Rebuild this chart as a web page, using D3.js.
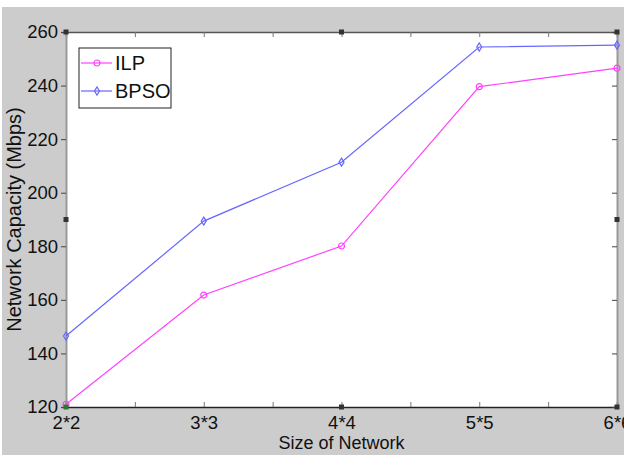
<!DOCTYPE html>
<html>
<head>
<meta charset="utf-8">
<script src="https://cdn.jsdelivr.net/npm/d3@7"></script>
<style>
  body { margin: 0; background: #fff; }
  text { font-family: "Liberation Sans", Arial, sans-serif; fill: #111; }
</style>
</head>
<body>
<script>
var categories = ["2*2", "3*3", "4*4", "5*5", "6*6"];
var ilp = [121, 161.8, 180.1, 239.6, 246.5];
var bpso = [146.5, 189.4, 211.4, 254.4, 255.1];
var yTicks = [120, 140, 160, 180, 200, 220, 240, 260];

var W = 624, H = 455;
var margin = {top: 32, right: 7, bottom: 48, left: 66};
var width = W - margin.left - margin.right;
var height = H - margin.top - margin.bottom;

var svg = d3.select("body").append("svg")
  .attr("width", W)
  .attr("height", H);

// grey figure background
svg.append("rect")
  .attr("x", 2).attr("y", 7)
  .attr("width", W - 2).attr("height", H - 7)
  .attr("fill", "#cccccc");

var g = svg.append("g")
  .attr("transform", "translate(" + margin.left + "," + margin.top + ")");

var x = d3.scaleLinear().domain([0, categories.length - 1]).range([0, width]);
var y = d3.scaleLinear().domain([120, 260]).range([height, 0]);

g.append("rect")
  .attr("width", width).attr("height", height)
  .attr("fill", "#fff");

var halfSteps = d3.range(0, categories.length - 0.5, 0.5);

// bottom axis
var xAxis = g.append("g")
  .attr("transform", "translate(0," + height + ")")
  .call(d3.axisBottom(x).tickValues(halfSteps).tickSize(-5).tickPadding(9)
    .tickFormat(function(d) { return d % 1 === 0 ? categories[d] : ""; }));
xAxis.select(".domain").attr("stroke", "#222").attr("stroke-width", 1.5);
xAxis.selectAll(".tick line").attr("stroke", "#777");
xAxis.selectAll("text").attr("font-size", 18.5).attr("fill", "#111")
  .attr("font-family", "Liberation Sans, Arial, sans-serif");

// top axis
var xTop = g.append("g")
  .call(d3.axisTop(x).tickValues(halfSteps).tickSize(-5).tickFormat(""));
xTop.select(".domain").attr("stroke", "#555").attr("stroke-width", 1.5);
xTop.selectAll(".tick line").attr("stroke", "#777");

// left axis
var yAxis = g.append("g")
  .call(d3.axisLeft(y).tickValues(yTicks).tickSize(5).tickPadding(3));
yAxis.select(".domain").attr("stroke", "#999").attr("stroke-width", 2);
yAxis.selectAll(".tick line").attr("stroke", "#444").attr("x2", -5);
yAxis.selectAll("text").attr("font-size", 18.5).attr("fill", "#111")
  .attr("font-family", "Liberation Sans, Arial, sans-serif");

// right axis
var yRight = g.append("g")
  .attr("transform", "translate(" + width + ",0)")
  .call(d3.axisRight(y).tickValues(yTicks).tickSize(-5).tickFormat(""));
yRight.select(".domain").attr("stroke", "#999").attr("stroke-width", 2);
yRight.selectAll(".tick line").attr("stroke", "#444");

// lines
var line = d3.line()
  .x(function(d, i) { return x(i); })
  .y(function(d) { return y(d); });

var series = [
  {name: "ILP", values: ilp, color: "#ff40ff", marker: "circle"},
  {name: "BPSO", values: bpso, color: "#6666ff", marker: "diamond"}
];

function drawMarker(sel, type, color) {
  if (type === "circle") {
    sel.append("circle").attr("r", 3)
      .attr("fill", "none").attr("stroke", color).attr("stroke-width", 1.2);
  } else {
    sel.append("path").attr("d", "M0,-4L2.5,0L0,4L-2.5,0Z")
      .attr("fill", "none").attr("stroke", color).attr("stroke-width", 1.2);
  }
}

series.forEach(function(s) {
  g.append("path")
    .attr("d", line(s.values))
    .attr("fill", "none")
    .attr("stroke", s.color)
    .attr("stroke-width", 1.2);
  g.selectAll(".m-" + s.name)
    .data(s.values)
    .enter().append("g")
    .attr("transform", function(d, i) { return "translate(" + x(i) + "," + y(d) + ")"; })
    .each(function() { drawMarker(d3.select(this), s.marker, s.color); });
});

// legend
var legend = g.append("g").attr("transform", "translate(13,16)");
legend.append("rect")
  .attr("width", 92).attr("height", 60)
  .attr("fill", "#fff").attr("stroke", "#222").attr("stroke-width", 1);
series.forEach(function(s, i) {
  var ly = 15 + i * 28;
  legend.append("line")
    .attr("x1", 2).attr("x2", 33).attr("y1", ly).attr("y2", ly)
    .attr("stroke", s.color).attr("stroke-width", 1.2);
  drawMarker(legend.append("g").attr("transform", "translate(18," + ly + ")"), s.marker, s.color);
  legend.append("text")
    .attr("x", 36).attr("y", ly + 7)
    .attr("font-size", 20)
    .text(s.name);
});

// axis titles
svg.append("text")
  .attr("x", width / 2 + margin.left)
  .attr("y", 449)
  .attr("text-anchor", "middle")
  .attr("font-size", 18)
  .text("Size of Network");

svg.append("text")
  .attr("transform", "translate(21," + (margin.top + height / 2) + ") rotate(-90)")
  .attr("text-anchor", "middle")
  .attr("font-size", 20)
  .text("Network Capacity (Mbps)");

// selection handles
var handles = [[0, 0], [0.5, 0], [1, 0], [0, 0.5], [1, 0.5], [0, 1], [0.5, 1], [1, 1]];
g.selectAll(".handle")
  .data(handles)
  .enter().append("rect")
  .attr("x", function(d) { return d[0] * width - 2.5; })
  .attr("y", function(d) { return d[1] * height - 2.5; })
  .attr("width", 5).attr("height", 5)
  .attr("fill", function(d) { return d[0] === 0 && d[1] === 1 ? "#2a7a2a" : "#333"; });
</script>
</body>
</html>
